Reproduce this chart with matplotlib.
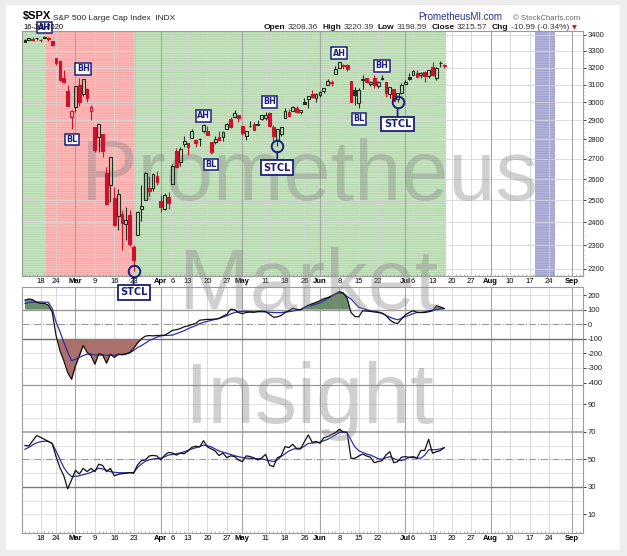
import matplotlib
matplotlib.use("Agg")
import matplotlib.pyplot as plt
import numpy as np
import pandas as pd
from matplotlib.patches import Rectangle
from matplotlib.ticker import FixedLocator, NullFormatter

W, H = 627, 556

# --- data -------------------------------------------------------------
first_day = "2020-02-11"
axis_end = "2020-09-08"
market_holidays = ["2020-02-17", "2020-04-10", "2020-05-25", "2020-07-03", "2020-09-07"]
prev_close = 3352.09  # close before the first candle

opens = [
    3365.87, 3370.50, 3365.90, 3378.08, 3369.04, 3380.39, 3380.45, 3360.50, 3257.61, 3238.94, 3139.90, 3062.54, 2916.90,
    2974.28, 3096.46, 3045.75, 3075.70, 2954.20, 2863.89, 2813.48, 2825.60, 2630.86, 2569.99, 2508.59, 2425.66,
    2436.50, 2393.48, 2431.94, 2290.71, 2344.44, 2457.77, 2501.29, 2555.87, 2558.98, 2614.69,
    2498.08, 2458.54, 2514.92, 2578.28, 2738.65, 2685.00, 2776.99, 2782.46, 2805.10, 2795.64, 2799.34, 2842.43,
    2845.62, 2784.81, 2787.89, 2810.42, 2812.64, 2854.65, 2909.96, 2918.46, 2930.91,
    2869.09, 2815.01, 2868.88, 2883.14, 2878.26, 2908.83, 2915.46, 2939.50, 2865.86, 2794.54, 2829.95, 2913.86,
    2948.59, 2953.63, 2969.95, 2948.05, 3004.08, 3015.65, 3046.61, 3025.17,
    3038.78, 3064.78, 3098.90, 3111.56, 3163.84, 3199.92, 3213.32, 3213.42, 3123.53, 3071.04, 2993.76, 3131.00,
    3136.13, 3101.64, 3140.29, 3094.42, 3138.70, 3114.40, 3046.60, 3073.20, 3018.59, 3050.20,
    3105.92, 3143.64, 3155.29, 3166.44, 3153.07, 3176.17, 3152.47, 3205.08, 3141.11, 3225.98, 3208.36,
]
highs = [
    3375.63, 3381.47, 3385.09, 3380.69, 3375.01, 3393.52, 3385.09, 3360.76, 3259.81, 3246.99, 3182.51, 3097.07, 2959.72,
    3090.96, 3136.72, 3130.97, 3083.04, 2985.93, 2863.89, 2882.59, 2825.60, 2660.95, 2711.33, 2562.98, 2553.93,
    2453.57, 2466.97, 2453.01, 2300.73, 2449.71, 2571.42, 2637.01, 2615.91, 2631.80, 2641.39,
    2522.75, 2533.22, 2538.18, 2676.85, 2756.89, 2760.75, 2818.57, 2782.46, 2851.85, 2801.88, 2806.51, 2879.22,
    2868.98, 2785.54, 2815.10, 2844.90, 2842.71, 2887.72, 2921.15, 2954.86, 2930.91,
    2869.09, 2844.24, 2898.23, 2891.11, 2901.92, 2932.16, 2944.25, 2945.82, 2874.14, 2852.80, 2865.01, 2968.09,
    2964.21, 2980.29, 2978.50, 2956.76, 3021.72, 3036.25, 3068.67, 3049.17,
    3062.18, 3081.07, 3130.94, 3128.91, 3211.72, 3233.13, 3222.71, 3223.27, 3123.53, 3088.42, 3079.76, 3153.45,
    3141.16, 3120.00, 3155.53, 3120.92, 3154.90, 3115.01, 3086.25, 3073.73, 3053.89, 3111.51,
    3128.44, 3165.81, 3182.59, 3184.15, 3171.80, 3179.78, 3186.82, 3235.32, 3200.95, 3238.28, 3220.39,
]
lows = [
    3352.72, 3369.72, 3363.00, 3366.15, 3355.61, 3378.83, 3360.52, 3328.45, 3214.65, 3118.77, 3108.99, 2977.39, 2855.84,
    2945.19, 2976.63, 3034.38, 2999.83, 2901.54, 2734.43, 2734.00, 2707.22, 2478.86, 2492.37, 2380.94, 2367.04,
    2280.52, 2319.78, 2295.56, 2191.86, 2344.44, 2407.53, 2500.72, 2520.02, 2545.28, 2571.15,
    2447.49, 2455.79, 2459.96, 2574.57, 2657.67, 2663.30, 2762.36, 2721.17, 2805.10, 2761.54, 2764.32, 2830.88,
    2820.43, 2727.10, 2775.95, 2794.26, 2791.76, 2852.89, 2860.71, 2912.16, 2892.47,
    2821.61, 2797.85, 2863.55, 2847.65, 2876.48, 2902.88, 2903.44, 2869.59, 2793.15, 2766.64, 2816.78, 2913.86,
    2922.35, 2953.63, 2938.57, 2933.59, 2988.17, 2969.75, 3023.40, 2998.61,
    3031.54, 3051.64, 3098.90, 3090.41, 3163.84, 3196.00, 3193.11, 3181.49, 2999.49, 2984.47, 2965.66, 3076.06,
    3108.03, 3093.51, 3083.11, 3079.39, 3127.12, 3032.13, 3024.01, 3004.63, 2999.74, 3047.83,
    3101.17, 3124.52, 3155.29, 3142.93, 3136.53, 3115.70, 3136.22, 3149.43, 3127.66, 3200.76, 3198.59,
]
closes = [
    3357.75, 3379.45, 3373.94, 3380.16, 3370.29, 3386.15, 3373.23, 3337.75, 3225.89, 3128.21, 3116.39, 2978.76, 2954.22,
    3090.23, 3003.37, 3130.12, 3023.94, 2972.37, 2746.56, 2882.23, 2741.38, 2480.64, 2711.02, 2386.13, 2529.19,
    2398.10, 2409.39, 2304.92, 2237.40, 2447.33, 2475.56, 2630.07, 2541.47, 2626.65, 2584.59,
    2470.50, 2526.90, 2488.65, 2663.68, 2659.41, 2749.98, 2789.82, 2761.63, 2846.06, 2783.36, 2799.55, 2874.56,
    2823.16, 2736.56, 2799.31, 2797.80, 2836.74, 2878.48, 2863.39, 2939.51, 2912.43,
    2830.71, 2842.74, 2868.44, 2848.42, 2881.19, 2929.80, 2930.32, 2870.12, 2820.00, 2852.50, 2863.70, 2953.91,
    2922.94, 2971.61, 2948.51, 2955.45, 2991.77, 3036.13, 3029.73, 3044.31,
    3055.73, 3080.82, 3122.87, 3112.35, 3193.93, 3232.39, 3207.18, 3190.14, 3002.10, 3041.31, 3066.59, 3124.74,
    3113.49, 3115.34, 3097.74, 3117.86, 3131.29, 3050.33, 3083.76, 3009.05, 3053.24, 3100.29,
    3115.86, 3130.01, 3179.72, 3145.32, 3169.94, 3152.05, 3185.04, 3155.22, 3197.52, 3226.56, 3215.57,
]

# CCI (black) and its moving average (blue)
cci = [
    165, 173, 168, 150,
    143, 143, 131, 85, -77, -181, -250, -332, -378, -285,
    -216, -147, -193, -216, -274, -202, -210, -267, -205, -228,
    -205, -210, -204, -195, -165, -128, -100, -82, -78, -80,
    -78, -77, -75, -60, -42, -38, -30, -18, -12, -2,
    5, 27, 30, 33, 33, 35, 40, 55, 67, 103,
    99, 80, 73, 80, 83, 81, 88, 89, 86, 69,
    48, 50, 60, 80, 92, 110, 102, 99, 115, 131,
    140, 150, 161, 175, 182, 195, 208, 224, 215, 178,
    80, 53, 50, 92, 90, 88, 84, 80, 76, 60,
    30, 11, 4, 35, 65, 80, 92, 82, 80, 80,
    85, 92, 126, 119, 108,
]
cci_avg = [
    143, 148, 152, 152,
    152, 151, 150, 108, 15, -50, -124, -190, -251, -240,
    -228, -215, -206, -205, -210, -212, -212, -213, -213, -212,
    -210, -206, -204, -195, -181, -160, -147, -130, -112, -100,
    -89, -80, -77, -76, -75, -65, -55, -45, -31, -20,
    -10, 4, 12, 20, 26, 33, 39, 48, 58, 70,
    80, 85, 88, 88, 86, 85, 85, 85, 84, 82,
    80, 79, 80, 83, 86, 90, 95, 100, 115, 122,
    130, 138, 145, 160, 175, 190, 205, 215, 210, 190,
    173, 145, 115, 108, 100, 92, 88, 85, 75, 60,
    48, 38, 30, 40, 52, 62, 72, 80, 80, 85,
    92, 95, 100, 105, 108,
]

# RSI (black) and its moving average (blue)
rsi = [
    60, 59.7, 63.5, 67.2,
    66, 64.5, 63, 61.5, 52, 44, 38, 28.5, 35, 42,
    39.3, 43.4, 41, 43.4, 41, 46.4, 45.5, 41, 43.4, 38,
    39, 39.5, 39.8, 40.3, 39.8, 45.9, 49, 49.5, 52.4, 52.8,
    52.4, 49.5, 53, 55, 54.5, 53, 54.5, 54, 56, 58.7,
    59.5, 59, 63.5, 59, 57.5, 56, 52.7, 54.5, 51.2, 52.5,
    52, 49.5, 48.3, 52.5, 52, 51, 49.5, 51, 53.6, 45.8,
    44.6, 51, 52.5, 59.2, 58.5, 60.9, 57.5, 57.5, 62.8, 67.7,
    62.3, 63, 61.6, 65.7, 66.5, 68, 69.4, 71.8, 69.9, 69.6,
    50.7, 50.7, 52.4, 53.8, 52.4, 51.5, 47.5, 48.3, 49, 53.1,
    55.5, 47.5, 48.3, 51.5, 51.9, 51.4, 51.9, 51, 56.3, 56.5,
    64.5, 54.4, 55.5, 56.3, 58.4,
]
rsi_avg = [
    57.3, 58.7, 60.5, 62,
    62.8, 63.1, 63, 61.5, 56, 50, 44, 40, 37.4, 37.6,
    38, 38.8, 39.5, 40.5, 42, 43.5, 43, 42, 41, 40.5,
    40.3, 40.2, 40.2, 40.3, 40.3, 44, 46.5, 48.5, 49.6, 50.2,
    50.6, 50.8, 51.8, 53.1, 53.5, 54, 54.5, 55.5, 56.5, 57.5,
    58.4, 59.2, 60.4, 59.8, 59, 57.5, 56, 55.2, 54.3, 53.5,
    52.6, 51.9, 51.3, 50.9, 50.7, 50.5, 50.4, 50.2, 49.6, 49,
    48.3, 49.5, 52, 54, 56, 57.2, 58, 58, 59.5, 61.5,
    61.8, 62, 62.5, 63.5, 64.5, 66, 67.8, 69.5, 69.6, 69.6,
    64, 59, 56.2, 55, 53.8, 53.1, 51.8, 50.5, 50, 51,
    51.9, 50.5, 49.5, 49, 50, 51.4, 51.2, 50.8, 50.7, 53,
    56.8, 57, 57, 57.5, 58.4,
]

tick_dates = [
    "2020-02-18", "2020-02-24", "2020-03-02", "2020-03-09", "2020-03-16", "2020-03-23",
    "2020-04-01", "2020-04-06", "2020-04-13", "2020-04-20", "2020-04-27", "2020-05-01",
    "2020-05-11", "2020-05-18", "2020-05-26", "2020-06-01", "2020-06-08", "2020-06-15",
    "2020-06-22", "2020-07-01", "2020-07-06", "2020-07-13", "2020-07-20", "2020-07-27",
    "2020-08-03", "2020-08-10", "2020-08-17", "2020-08-24", "2020-09-01",
]
tick_labels = [
    "18", "24", "Mar", "9", "16", "23", "Apr", "6", "13", "20", "27", "May", "11", "18", "26",
    "Jun", "8", "15", "22", "Jul", "6", "13", "20", "27", "Aug", "10", "17", "24", "Sep",
]
month_names = ["Mar", "Apr", "May", "Jun", "Jul", "Aug", "Sep"]

price_levels = [2200, 2300, 2400, 2500, 2600, 2700, 2800, 2900, 3000, 3100, 3200, 3300, 3400]
cci_levels = [200, 100, 0, -100, -200, -300, -400]
rsi_levels = [90, 70, 50, 30, 10]

# annotation boxes: label, day, price level of the box centre
box_labels = [
    ("AH", "2020-02-19", 3448), ("BH", "2020-03-04", 3192), ("BL", "2020-02-28", 2799),
    ("AH", "2020-04-17", 2926), ("BL", "2020-04-21", 2672), ("BH", "2020-05-12", 3002),
    ("AH", "2020-06-08", 3286), ("BH", "2020-06-23", 3211), ("BL", "2020-06-15", 2909),
]
# short-term cycle lows: day circled, price of the label box
stcl_marks = [("2020-03-23", 2106), ("2020-05-14", 2657), ("2020-06-29", 2881)]

falling_span = ("2020-02-20", "2020-03-23")
rising_span = ("2020-03-24", "2020-07-16")
future_span = ("2020-08-19", "2020-08-25")

watermark_words = [("Prometheus", 200), ("Market", 309), ("Insight", 423)]

NAVY = "#1b1f7c"
UP = "#1f301f"
DOWN = "#d0112b"


def fx(px):
    return px / W


def fy(py):
    return 1 - py / H


cal = pd.bdate_range(first_day, axis_end, freq="C", holidays=market_holidays)
pos = {d.strftime("%Y-%m-%d"): i for i, d in enumerate(cal)}
x = np.arange(len(closes))
tick_pos = [pos[d] for d in tick_dates]
XLIM = (-0.77, 143.7)

plt.rcParams["font.family"] = ["Liberation Sans", "DejaVu Sans"]
plt.rcParams["hatch.linewidth"] = 0.6

fig = plt.figure(figsize=(W / 100, H / 100), dpi=100)
fig.patch.set_facecolor("#ededed")
fig.patches.append(Rectangle((fx(6), fy(550)), (620 - 6) / W, (550 - 5) / H,
                             transform=fig.transFigure, facecolor="white",
                             edgecolor="none", zorder=-1))

ax1 = fig.add_axes([fx(22), fy(276), 560.7 / W, 245 / H])
ax2 = fig.add_axes([fx(22), fy(385), 560.7 / W, 98 / H])
ax3 = fig.add_axes([fx(22), fy(533), 560.7 / W, 148 / H])
ax1.set_zorder(3)
ax2.set_facecolor("none")
ax3.set_facecolor("none")


def style_axis(ax, levels, show_dates, day_ticks):
    ax.set_xlim(*XLIM)
    ax.yaxis.tick_right()
    ax.set_yticks(levels)
    ax.set_yticklabels([str(v) for v in levels])
    ax.tick_params(axis="y", length=2, width=0.6, pad=1.5, labelsize=5.5,
                   colors="#222222", direction="out")
    ax.set_xticks(tick_pos)
    if day_ticks:
        ax.xaxis.set_minor_locator(FixedLocator(np.arange(0, 145)))
        ax.tick_params(axis="x", which="minor", length=1.5, width=0.5, color="#999999",
                       direction="in")
    ax.tick_params(axis="x", which="major", length=0, pad=1.5, labelsize=5.5)
    if show_dates:
        ax.set_xticklabels(tick_labels)
        for lbl in ax.get_xticklabels():
            if lbl.get_text() in month_names:
                lbl.set_fontweight("bold")
    else:
        ax.set_xticklabels([])
    for sp in ax.spines.values():
        sp.set_color("#9a9a9a")
        sp.set_linewidth(0.8)
    for p, lab in zip(tick_pos, tick_labels):
        month = lab in month_names
        ax.axvline(p, color="#a5a5a5" if month else "#d3d3d3",
                   lw=0.8 if month else 0.6, zorder=1.2)


def shade(ax, start, end, color, stripe):
    ax.axvspan(start, end, facecolor=color, edgecolor="none", zorder=0.5)
    ax.axvspan(start, end, facecolor="none", edgecolor=stripe, hatch="-------",
               linewidth=0, zorder=0.6)


# --- price panel --------------------------------------------------------
ax1.set_yscale("log")
ax1.set_ylim(2171.5, 3425)
style_axis(ax1, price_levels, True, True)
ax1.yaxis.set_minor_locator(FixedLocator(np.arange(2180, 3420, 20)))
ax1.yaxis.set_minor_formatter(NullFormatter())
ax1.tick_params(axis="y", which="minor", length=1, width=0.5, color="#999999")
for lv in price_levels:
    ax1.axhline(lv, color="#d6d6d6", lw=0.6, zorder=1.1)

green, green_line = "#c8e5c2", "#b0d3a9"
shade(ax1, XLIM[0], pos[falling_span[0]] - 0.5, green, green_line)
shade(ax1, pos[falling_span[0]] - 0.5, pos[falling_span[1]] + 0.5, "#ffbaba", "#f3a2a2")
shade(ax1, pos[rising_span[0]] - 0.5, pos[rising_span[1]] + 0.5, green, green_line)
shade(ax1, pos[future_span[0]] - 0.5, pos[future_span[1]] + 0.5, "#b3b3db", "#9d9dca")

# watermark: figure coordinates, drawn above the shading and below the candles
for word, base in watermark_words:
    ax1.text(fx(309), fy(base), word, transform=fig.transFigure, fontsize=61,
             ha="center", va="baseline", color="#858585", alpha=0.38, zorder=2,
             clip_on=False)

prev = [prev_close] + closes[:-1]
for i in x:
    o, h, l, c = opens[i], highs[i], lows[i], closes[i]
    col = DOWN if c < prev[i] else UP
    top, bot = max(o, c), min(o, c)
    ax1.vlines(i, top, h, color=col, lw=0.8, zorder=3)
    ax1.vlines(i, l, bot, color=col, lw=0.8, zorder=3)
    ax1.bar(i, top - bot, bottom=bot, width=0.72,
            facecolor=col if c < o else "none", edgecolor=col, lw=0.8, zorder=3.1)

for lab, day, level in box_labels:
    ax1.text(pos[day], level, lab, ha="center", va="center", fontsize=5.8,
             fontweight="bold", color=NAVY, family="DejaVu Sans", zorder=6,
             clip_on=False,
             bbox=dict(boxstyle="square,pad=0.17", fc="white", ec=NAVY, lw=1.1))

for day, level in stcl_marks:
    i = pos[day]
    ax1.plot(i, lows[i], marker="o", ms=8.3, mfc="none", mec=NAVY, mew=1.4,
             zorder=6, clip_on=False)
    ax1.annotate("STCL", xy=(i, lows[i]), xytext=(i, level), ha="center", va="center",
                 fontsize=7, fontweight="bold", color=NAVY, family="DejaVu Sans",
                 annotation_clip=False, zorder=6,
                 bbox=dict(boxstyle="square,pad=0.25", fc="white", ec=NAVY, lw=1.3),
                 arrowprops=dict(arrowstyle="-", color=NAVY, lw=1.3, shrinkA=0,
                                 shrinkB=4.3))

# --- CCI panel ----------------------------------------------------------
ax2.set_ylim(-417, 255)
style_axis(ax2, cci_levels, False, False)
for lv in [200, -200, -300]:
    ax2.axhline(lv, color="#dcdcdc", lw=0.6, zorder=1)
ax2.axhline(100, color="#9a9a9a", lw=1.0, zorder=1.5)
ax2.axhline(0, color="#9a9a9a", lw=0.8, ls="-.", zorder=1.5)
ax2.axhline(-100, color="#6e6e6e", lw=1.0, zorder=1.5)
cci_arr = np.array(cci, dtype=float)
ax2.fill_between(x, 100, cci_arr, where=cci_arr > 100, interpolate=True,
                 color="#6a8f68", lw=0, zorder=2)
ax2.fill_between(x, -100, cci_arr, where=cci_arr < -100, interpolate=True,
                 color="#a9706c", lw=0, zorder=2)
ax2.plot(x, cci_avg, color="#2e2ea8", lw=0.9, zorder=3)
ax2.plot(x, cci, color="#111111", lw=0.9, zorder=3.2)

# --- RSI panel ----------------------------------------------------------
ax3.set_ylim(-3.6, 104)
style_axis(ax3, rsi_levels, True, True)
ax3.tick_params(axis="x", which="minor", top=False)
for lv in [90, 80, 60, 40, 20, 10]:
    ax3.axhline(lv, color="#dcdcdc", lw=0.6, zorder=1)
ax3.axhline(70, color="#9a9a9a", lw=1.1, zorder=1.5)
ax3.axhline(50, color="#9a9a9a", lw=0.8, ls="-.", zorder=1.5)
ax3.axhline(30, color="#7a7a7a", lw=1.0, zorder=1.5)
rsi_arr = np.array(rsi, dtype=float)
ax3.fill_between(x, 70, rsi_arr, where=rsi_arr > 70, interpolate=True,
                 color="#6a8f68", lw=0, zorder=2)
ax3.plot(x, rsi_avg, color="#2e2ea8", lw=0.9, zorder=3)
ax3.plot(x, rsi, color="#111111", lw=0.9, zorder=3.2)

# --- header -------------------------------------------------------------
fig.text(fx(23), fy(19.5), "$SPX", fontsize=8, fontweight="bold", va="baseline")
fig.text(fx(52.5), fy(19.5), "S&P 500 Large Cap Index  INDX", fontsize=6, va="baseline",
         color="#222222")
fig.text(fx(23), fy(29), "16-Jul-2020", fontsize=5.5, va="baseline")
fig.text(fx(418), fy(19.5), "PrometheusMI.com", fontsize=7, va="baseline", color="#2a3190")
fig.text(fx(513), fy(19.5), "\u00a9 StockCharts.com", fontsize=5.6, va="baseline",
         color="#666666")

chg = closes[-1] - closes[-2]
header_parts = [
    ("Open", True), (f"{opens[-1]:.2f}", False), ("High", True), (f"{highs[-1]:.2f}", False),
    ("Low", True), (f"{lows[-1]:.2f}", False), ("Close", True), (f"{closes[-1]:.2f}", False),
    ("Chg", True), (f"{chg:.2f} ({chg / closes[-2] * 100:.2f}%)", False),
]
renderer = fig.canvas.get_renderer()
cur = 264
for txt, bold in header_parts:
    t = fig.text(fx(cur), fy(29), txt, fontsize=6, va="baseline",
                 fontweight="bold" if bold else "normal",
                 color="#111111" if bold else "#333333")
    cur += t.get_window_extent(renderer).width + (2.5 if bold else 4)
fig.text(fx(cur - 1), fy(29), "\u25bc", fontsize=4.5, va="baseline", color="#c0102a",
         family="DejaVu Sans")

fig.savefig("out.png", dpi=100)
